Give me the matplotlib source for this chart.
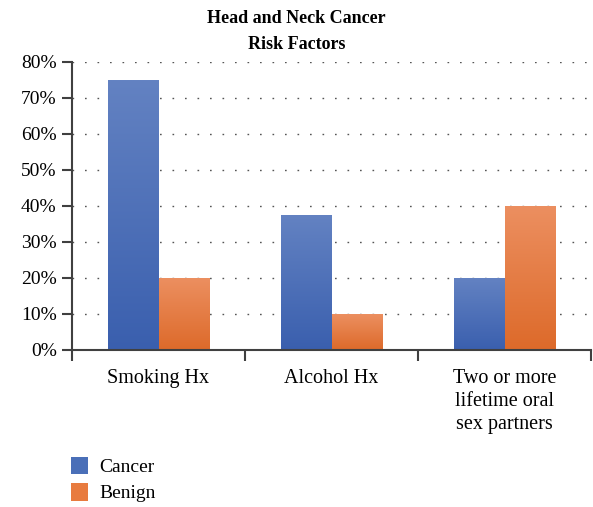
import numpy as np
import matplotlib.pyplot as plt
from matplotlib.patches import Patch
from matplotlib.colors import LinearSegmentedColormap
from matplotlib.ticker import FuncFormatter

categories = ['Smoking Hx', 'Alcohol Hx', 'Two or more\nlifetime oral\nsex partners']
cancer = [0.75, 0.375, 0.20]
benign = [0.20, 0.10, 0.40]
series_names = ['Cancer', 'Benign']

plt.rcParams['font.family'] = ['Liberation Serif', 'DejaVu Serif']

fig = plt.figure(figsize=(5.93, 5.07), dpi=100)
ax = fig.add_axes([72 / 593, 1 - 350 / 507, 519 / 593, 288 / 507])

x = np.arange(len(categories))
w = 0.29
grads = {
    'Cancer': LinearSegmentedColormap.from_list('c', ['#3a5fae', '#6382c2']),
    'Benign': LinearSegmentedColormap.from_list('b', ['#dd6a2a', '#ec8f60']),
}
flat = {'Cancer': '#4a6fb8', 'Benign': '#e87b3f'}

# bars drawn invisible, then filled with a vertical gradient clipped to each bar
for name, vals, off in [('Cancer', cancer, -w / 2), ('Benign', benign, w / 2)]:
    bars = ax.bar(x + off, vals, width=w, color='none', edgecolor='none', zorder=2)
    for b in bars:
        x0, y0 = b.get_x(), b.get_y()
        x1, y1 = x0 + b.get_width(), y0 + b.get_height()
        grad = np.linspace(0, 1, 256).reshape(-1, 1)
        im = ax.imshow(grad, cmap=grads[name], origin='lower', aspect='auto',
                       extent=[x0, x1, y0, y1], zorder=2)
        im.set_clip_path(b)

ax.set_xlim(-0.5, 2.5)
ax.set_ylim(0, 0.8)
ax.set_yticks(np.arange(0, 0.81, 0.1))
ax.yaxis.set_major_formatter(FuncFormatter(lambda v, p: f'{v * 100:.0f}%'))
ax.yaxis.grid(True, linestyle=(0, (1.2, 7.8)), color='#555555', linewidth=1.0, zorder=0)
ax.set_axisbelow(True)

ax.set_xticks(x)
ax.set_xticklabels(categories, fontsize=14.5, linespacing=1.27)
ax.set_xticks([-0.5, 0.5, 1.5, 2.5], minor=True)
ax.tick_params(axis='x', which='major', length=0, pad=14)
ax.tick_params(axis='x', which='minor', length=8, width=1.5, color='#404040')
ax.tick_params(axis='y', length=7, width=1.5, color='#404040', labelsize=14, pad=4)

for s in ['top', 'right']:
    ax.spines[s].set_visible(False)
for s in ['left', 'bottom']:
    ax.spines[s].set_color('#404040')
    ax.spines[s].set_linewidth(1.5)

fig.text(0.5, 1 - 31.5 / 507, 'Head and Neck Cancer\nRisk Factors', ha='center', va='center',
         fontsize=13, fontweight='bold', linespacing=1.72)

handles = [Patch(facecolor=flat[n], edgecolor='none', label=n) for n in series_names]
fig.legend(handles=handles, loc='lower left', bbox_to_anchor=(53 / 593, -13 / 507),
           frameon=False, fontsize=14, handlelength=0.88, handleheight=1.0,
           handletextpad=0.6, labelspacing=0.37)

fig.savefig('out.png', dpi=100)
